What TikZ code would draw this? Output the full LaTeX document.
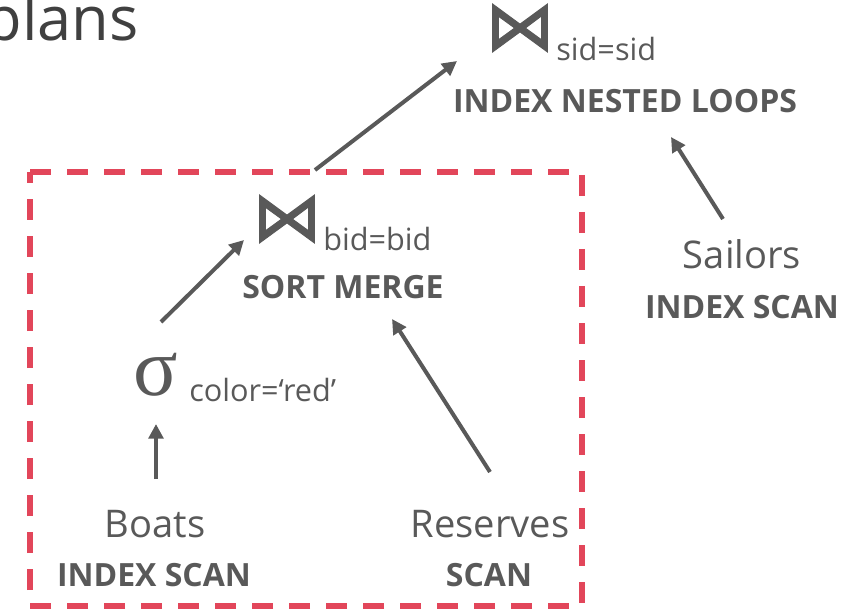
\documentclass[tikz,border=0pt]{standalone}
\usepackage{fontspec}
\setmainfont{Open Sans}
\newfontfamily\symfont[FakeBold=1.5]{DejaVu Sans}
\newfontfamily\greekfont{Liberation Serif}
\usetikzlibrary{arrows.meta}
\definecolor{textgray}{RGB}{89,89,89}
\definecolor{titlegray}{RGB}{64,64,64}
\definecolor{boxred}{RGB}{226,70,90}

\begin{document}
\begin{tikzpicture}[x=0.75pt,y=-0.75pt,
  relname/.style={inner sep=0pt,text=textgray,font=\fontsize{28.6}{28.6}\selectfont},
  algo/.style={inner sep=0pt,text=textgray,font=\fontsize{24}{24}\selectfont\bfseries},
  cond/.style={inner sep=0pt,text=textgray,font=\fontsize{23}{23}\selectfont},
  joinsym/.style={inner sep=0pt,text=textgray,font=\fontsize{52}{52}\symfont},
  flow/.style={draw=textgray,line width=3pt,-{Triangle[length=11pt,width=11pt]}}]
\useasboundingbox (0,0) rectangle (866,609);
\node[anchor=base east,inner sep=0pt,text=titlegray,font=\fontsize{46}{46}\selectfont] (title) at (139,41) {plans};

\draw[boxred,line width=4pt,dash pattern=on 15.75pt off 12pt] (30,172) -- (582,172) -- (582,606) -- (30,606) -- cycle;

\node[joinsym] (sidjoin) at (520,28) {⋈};
\node[cond,anchor=base west] (sidcond) at (556,61) {sid=sid};
\node[algo,anchor=base] (inl) at (625,113) {INDEX NESTED LOOPS};

\node[relname,anchor=base] (sailors) at (742,268) {Sailors};
\node[algo,anchor=base] (sailscan) at (742,318) {INDEX SCAN};

\node[joinsym] (bidjoin) at (287,219) {⋈};
\node[cond,anchor=base west] (bidcond) at (323,251) {bid=bid};
\node[algo,anchor=base] (smj) at (343,299) {SORT MERGE};

\node[inner sep=0pt,text=textgray,font=\fontsize{62}{62}\greekfont] (select) at (156,375) {σ};
\node[cond,anchor=base west] (selcond) at (189,401) {color=‘red’};

\node[relname,anchor=base] (boats) at (155,537) {Boats};
\node[algo,anchor=base] (boatscan) at (154,586) {INDEX SCAN};
\node[relname,anchor=base] (reserves) at (490,537) {Reserves};
\node[algo,anchor=base] (resscan) at (489,586) {SCAN};

\coordinate (smjout) at (315,170);
\coordinate (inlin) at (457,61);
\coordinate (sailout) at (723,219);
\coordinate (inlin2) at (671,137);
\coordinate (selout) at (161,322);
\coordinate (smjin) at (244,240);
\coordinate (resout) at (490,472);
\coordinate (smjin2) at (392,319);
\coordinate (boatout) at (156,479);
\coordinate (selin) at (156,424);

\draw[flow] (smjout) -- (inlin);
\draw[flow] (sailout) -- (inlin2);
\draw[flow] (selout) -- (smjin);
\draw[flow] (resout) -- (smjin2);
\draw[flow] (boatout) -- (selin);
\end{tikzpicture}
\end{document}
